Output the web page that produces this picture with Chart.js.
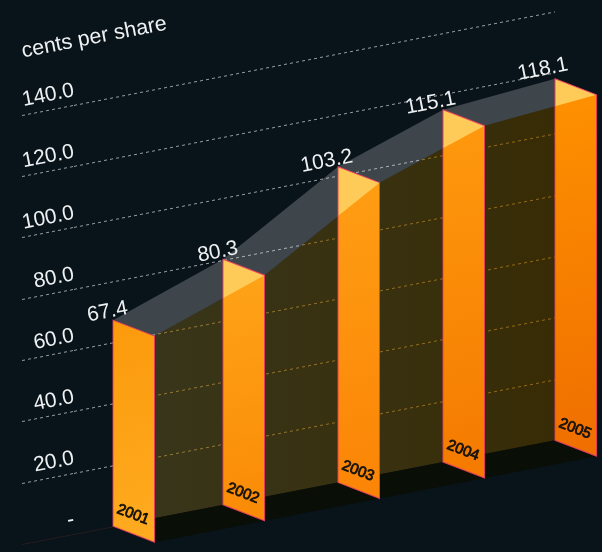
<!DOCTYPE html>
<html>
<head>
<meta charset="utf-8">
<title>Cents per share</title>
<script src="https://cdn.jsdelivr.net/npm/chart.js@4/dist/chart.umd.min.js"></script>
<style>
  html, body { margin: 0; padding: 0; background: #09131a; overflow: hidden; }
  canvas { display: block; }
</style>
</head>
<body>
<canvas id="chart" width="602" height="552"></canvas>
<script>
const years = [2001, 2002, 2003, 2004, 2005];
const centsPerShare = [67.4, 80.3, 103.2, 115.1, 118.1];
const yTicks = [0, 20, 40, 60, 80, 100, 120, 140];
const yTickLabels = ['-', '20.0', '40.0', '60.0', '80.0', '100.0', '120.0', '140.0'];

// ── Projection ──────────────────────────────────────────────────────
const FONT = '"Liberation Sans", Arial, sans-serif';
const TEXT_COLOR = '#eef1f2';
const WALL_SLOPE = 0.1944;   // back plane climbs to the right
const PANEL_SLOPE = 0.385;   // bar fronts fall to the right
const PLANE_LEFT = 22;
const DEPTH_X = 41.5;
const DEPTH_Y = DEPTH_X * (WALL_SLOPE + PANEL_SLOPE);
const barNudge = [0, -0.5, 4, -1.5, 0];
const labelLift = [3.3, 2.2, 1.7, 3, 6];
const labelInset = [15.7, 16, 15.7, 13.7, 14];
const panelTop = ['#fb9a0c', '#ffa51a', '#ff9f14', '#ff9a0e', '#ff9200'];
const panelBottom = ['#ffab20', '#fa8a06', '#fb8406', '#f47a00', '#ef6e00'];

function trace(ctx, pts) {
  ctx.beginPath();
  pts.forEach((p, i) => (i ? ctx.lineTo(p.x, p.y) : ctx.moveTo(p.x, p.y)));
  ctx.closePath();
}

// Text is rotated on screen, so the plane's shear is cancelled out first
function rotatedText(ctx, text, x, y, slope, align, font, color, stroke) {
  const t = Math.atan(slope);
  const c = Math.cos(t), s = Math.sin(t);
  ctx.save();
  ctx.transform(c, s + WALL_SLOPE * c, -s, c - WALL_SLOPE * s, x, y);
  ctx.font = font;
  ctx.fillStyle = color;
  ctx.textAlign = align;
  ctx.textBaseline = 'alphabetic';
  ctx.fillText(text, 0, 0);
  if (stroke) {
    ctx.strokeStyle = color;
    ctx.lineWidth = stroke;
    ctx.strokeText(text, 0, 0);
  }
  ctx.restore();
}

const shearPlugin = {
  id: 'shear',
  beforeDraw(chart) {
    const ctx = chart.ctx;
    ctx.save();
    // the wall blends with what is under it, so the canvas needs an opaque ground
    ctx.fillStyle = '#09131a';
    ctx.fillRect(0, 0, chart.width, chart.height);
    ctx.transform(1, -WALL_SLOPE, 0, 1, 0, WALL_SLOPE * PLANE_LEFT);
  },
  afterDraw(chart) {
    chart.ctx.restore();
  }
};

const axisText = {
  id: 'axisText',
  beforeDatasetsDraw(chart) {
    const ctx = chart.ctx;
    const y = chart.scales.y;
    const left = y.right + 1;
    yTicks.forEach((v, i) => {
      rotatedText(ctx, yTickLabels[i], left, y.getPixelForValue(v) - 9, -WALL_SLOPE, 'right', `21px ${FONT}`, TEXT_COLOR);
    });
    rotatedText(ctx, 'cents per share', PLANE_LEFT + 1, 57.7, -WALL_SLOPE, 'left', `21.4px ${FONT}`, TEXT_COLOR);
  }
};

// Bars are drawn as folded panels, still placed by the bar elements
const foldedBars = {
  id: 'foldedBars',
  beforeDatasetDraw(chart, args) {
    const ctx = chart.ctx;
    const bars = args.meta.data.map((el, i) => ({ x: el.x + barNudge[i], y: el.y, base: el.base }));
    const base = bars[0].base;
    const first = bars[0];
    const last = bars[bars.length - 1];
    const back = bars.map(b => ({ x: b.x, y: b.y }));
    const front = bars.map(b => ({ x: b.x + DEPTH_X, y: b.y + DEPTH_Y }));
    const wallPts = [...front, { x: last.x + DEPTH_X, y: base }, { x: first.x + DEPTH_X, y: base }];

    // back wall: tint what is behind it, then lift it
    const tint = ctx.createLinearGradient(front[0].x, 0, last.x, 0);
    tint.addColorStop(0, 'rgb(160,125,60)');
    tint.addColorStop(1, 'rgb(160,110,20)');
    const lift = ctx.createLinearGradient(front[0].x, 0, last.x, 0);
    lift.addColorStop(0, 'rgb(50,44,20)');
    lift.addColorStop(1, 'rgb(50,36,4)');
    trace(ctx, wallPts);
    ctx.save();
    ctx.globalCompositeOperation = 'multiply';
    ctx.fillStyle = tint;
    ctx.fill();
    ctx.globalCompositeOperation = 'lighter';
    ctx.fillStyle = lift;
    ctx.fill();
    ctx.restore();

    // floor
    trace(ctx, [
      { x: first.x, y: base }, { x: last.x, y: base },
      { x: last.x + DEPTH_X, y: base + DEPTH_Y }, { x: first.x + DEPTH_X, y: base + DEPTH_Y }
    ]);
    ctx.fillStyle = '#090e06';
    ctx.fill();

    // top ribbon
    trace(ctx, [...back, ...front.slice().reverse()]);
    ctx.fillStyle = 'rgba(255,255,255,0.215)';
    ctx.fill();

    bars.forEach((b, i) => {
      const corners = [
        { x: b.x, y: b.y }, { x: b.x + DEPTH_X, y: b.y + DEPTH_Y },
        { x: b.x + DEPTH_X, y: b.base + DEPTH_Y }, { x: b.x, y: b.base }
      ];
      const fill = ctx.createLinearGradient(0, b.y, 0, b.base + DEPTH_Y);
      fill.addColorStop(0, panelTop[i]);
      fill.addColorStop(1, panelBottom[i]);
      trace(ctx, corners);
      ctx.fillStyle = fill;
      ctx.fill();

      // lit part of the panel, above the wall's top edge
      ctx.save();
      trace(ctx, corners);
      ctx.clip();
      trace(ctx, [...front, { x: last.x + DEPTH_X, y: 0 }, { x: first.x + DEPTH_X, y: 0 }]);
      ctx.fillStyle = '#ffcb58';
      ctx.fill();
      ctx.restore();

      trace(ctx, corners);
      ctx.strokeStyle = 'rgba(232,60,100,0.9)';
      ctx.lineWidth = 1;
      ctx.stroke();

      rotatedText(ctx, String(years[i]), b.x + 3, b.base - 13, PANEL_SLOPE, 'left', `15px ${FONT}`, '#14120c', 0.8);
      rotatedText(ctx, centsPerShare[i].toFixed(1), b.x + labelInset[i], b.y - labelLift[i], -WALL_SLOPE, 'right', `21px ${FONT}`, TEXT_COLOR);
    });
    return false;
  }
};

const gridColor = ctx => (ctx.tick.value === 0 ? 'rgba(90,50,40,0.35)' : 'rgba(185,190,190,0.8)');
const gridDash = ctx => (ctx.tick && ctx.tick.value === 0 ? [] : [3, 3]);

new Chart(document.getElementById('chart'), {
  type: 'bar',
  data: {
    datasets: [{
      label: 'cents per share',
      data: years.map((y, i) => ({ x: y, y: centsPerShare[i] }))
    }]
  },
  plugins: [shearPlugin, axisText, foldedBars],
  options: {
    responsive: false,
    animation: false,
    layout: { padding: { left: PLANE_LEFT, right: 47, top: 115.3, bottom: 7.6 } },
    plugins: { legend: { display: false }, tooltip: { enabled: false } },
    scales: {
      x: { type: 'linear', min: 2000.647, max: 2005, offset: false, display: false },
      y: {
        min: 0,
        max: 140,
        afterFit(scale) {
          scale.width = 52;
          scale.paddingTop = 0;
          scale.paddingBottom = 0;
        },
        afterBuildTicks(scale) {
          scale.ticks = yTicks.map(v => ({ value: v }));
        },
        border: { display: false, dash: gridDash },
        grid: {
          color: gridColor,
          tickColor: gridColor,
          tickLength: 52,
          tickBorderDash: gridDash
        },
        ticks: { display: false }
      }
    }
  }
});
</script>
</body>
</html>
